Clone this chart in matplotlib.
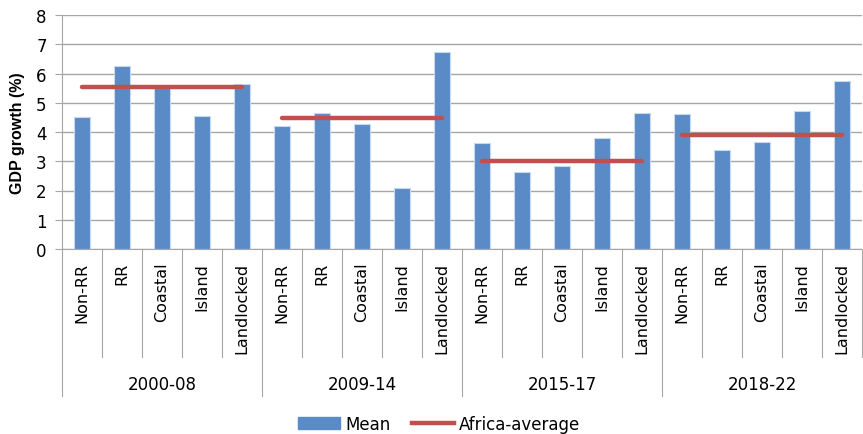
import matplotlib
matplotlib.use("Agg")
import matplotlib.pyplot as plt
import numpy as np
from matplotlib.lines import Line2D
from matplotlib.patches import Patch

# data
periods = ["2000-08", "2009-14", "2015-17", "2018-22"]
groups = ["Non-RR", "RR", "Coastal", "Island", "Landlocked"]
mean_growth = [
    4.52, 6.27, 5.55, 4.55, 5.65,
    4.21, 4.65, 4.27, 2.10, 6.72,
    3.61, 2.62, 2.83, 3.78, 4.65,
    4.62, 3.37, 3.65, 4.72, 5.76,
]
africa_avg = [5.54, 4.48, 3.02, 3.90]

bar_color = "#5B8BC6"
line_color = "#C0504D"
axis_grey = "#A6A6A6"
font = "DejaVu Sans"

fig = plt.figure(figsize=(8.63, 4.35), dpi=100)
ax = fig.add_axes([62 / 863, 1 - 250 / 435, 800 / 863, 234 / 435])

n_grp = len(groups)
x = np.arange(len(periods) * n_grp)
ax.bar(x, mean_growth, width=0.42, color=bar_color, edgecolor="#C6D9F0",
       linewidth=0.8, zorder=2)

for i, avg in enumerate(africa_avg):
    xs = [i * n_grp, i * n_grp + n_grp - 1]
    ax.plot(xs, [avg, avg], color=line_color, linewidth=3.2,
            solid_capstyle="round", zorder=3)

ax.set_xlim(-0.5, len(x) - 0.5)
ax.set_ylim(0, 8)
ax.set_yticks(range(0, 9))
ax.yaxis.grid(True, color=axis_grey, linewidth=1.0, zorder=0)
ax.set_axisbelow(True)
for side in ["top", "right"]:
    ax.spines[side].set_visible(False)
ax.spines["left"].set_color(axis_grey)
ax.spines["bottom"].set_color(axis_grey)
ax.tick_params(axis="y", direction="out", length=5, color=axis_grey,
               labelsize=12, pad=6)
ax.set_xticks([])
ax.set_ylabel("GDP growth (%)", fontsize=11.5, fontweight="bold",
              family="Liberation Sans", labelpad=8)

# multi-level category axis
trans = ax.get_xaxis_transform()
for b in np.arange(-0.5, len(x), 1.0):
    is_grp = (b + 0.5) % n_grp == 0
    y_end = -0.628 if is_grp else -0.462
    if b == len(x) - 0.5:
        y_end = -0.462
    ax.plot([b, b], [0, y_end], transform=trans, color=axis_grey,
            linewidth=0.8, clip_on=False)

for i in x:
    ax.text(i, -0.055, groups[i % n_grp], transform=trans, rotation=90,
            ha="center", va="top", fontsize=11.5, family=font, color="black")

for i, p in enumerate(periods):
    ax.text(i * n_grp + (n_grp - 1) / 2, -0.577, p, transform=trans,
            ha="center", va="center", fontsize=12, family=font)

handles = [Patch(color=bar_color, label="Mean"),
           Line2D([0], [0], color=line_color, linewidth=3.2,
                  label="Africa-average")]
fig.legend(handles=handles, loc="center", bbox_to_anchor=(439 / 863, 1 - 425 / 435),
           ncol=2, frameon=False, prop={"family": font, "size": 12},
           handlelength=2.5, handletextpad=0.3, columnspacing=1.3)

fig.savefig("out.png", dpi=100)
